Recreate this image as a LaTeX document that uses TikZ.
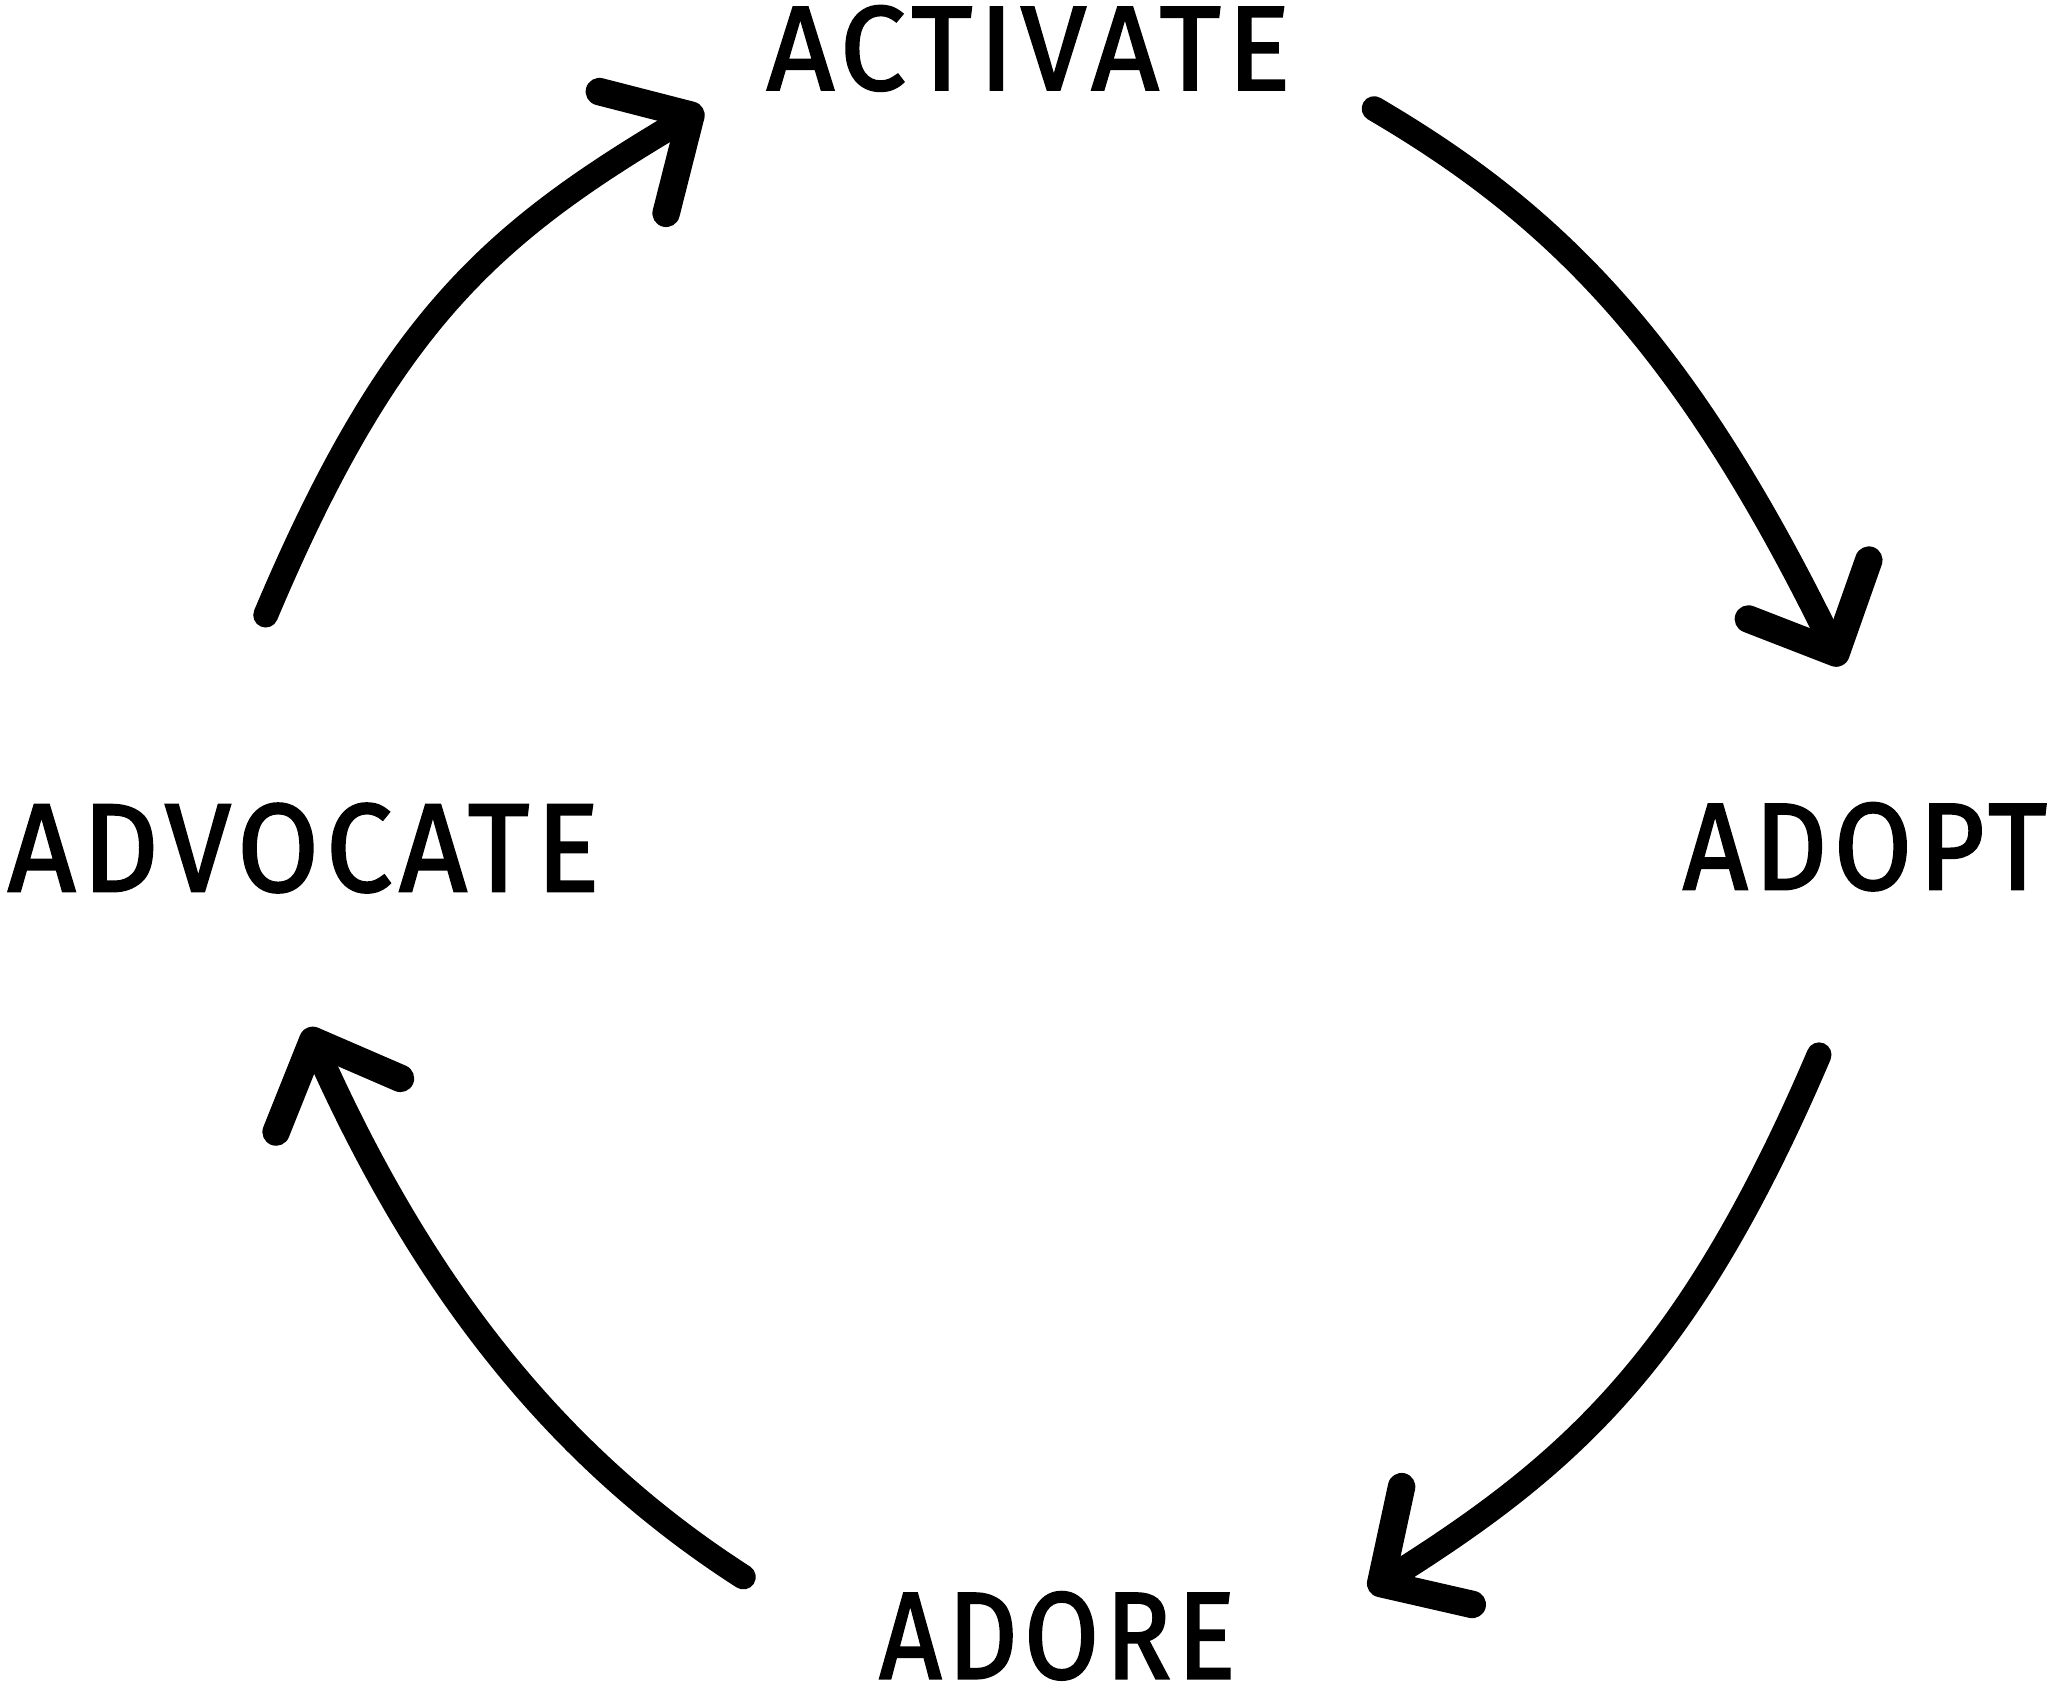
\documentclass[tikz,border=0pt]{standalone}
\usepackage{fontspec}
\usepackage{graphicx}
\newfontfamily\wordfont{Fira Sans}[LetterSpace=6, FakeBold=2]
\begin{document}
\begin{tikzpicture}[x=1pt,y=-1pt,
  word/.style={inner sep=0pt, font=\fontsize{90}{90}\wordfont},
  shaft/.style={line width=19pt, line cap=round},
  head/.style={line width=21pt, line cap=round, line join=round}]
\useasboundingbox (0,0) rectangle (1568,1294);

% the four stages
\node[word] (activate) at (786,37)   {\resizebox{400pt}{64pt}{ACTIVATE}};
\node[word] (adopt)    at (1425,647) {\resizebox{278pt}{66pt}{ADOPT}};
\node[word] (adore)    at (808,1250) {\resizebox{272pt}{66pt}{ADORE}};
\node[word] (advocate) at (232,648)  {\resizebox{452pt}{67pt}{ADVOCATE}};

% arrow ends and head wings
\coordinate (s1) at (203,470);  \coordinate (t1) at (528,88);
\coordinate (a1) at (458,70);   \coordinate (b1) at (509,163);
\coordinate (s2) at (1050,83);  \coordinate (t2) at (1403,499);
\coordinate (a2) at (1428,428); \coordinate (b2) at (1336,473);
\coordinate (s3) at (1390,806); \coordinate (t3) at (1055,1210);
\coordinate (a3) at (1071,1136);\coordinate (b3) at (1125,1226);
\coordinate (s4) at (568,1205); \coordinate (t4) at (239,795);
\coordinate (a4) at (306,824);  \coordinate (b4) at (211,865);

% curved shafts
\draw[shaft] (s1) .. controls (300,240) and (380,175) .. (t1);
\draw[shaft] (s2) .. controls (1190,165) and (1290,265) .. (t2);
\draw[shaft] (s3) .. controls (1290,1040) and (1200,1120) .. (t3);
\draw[shaft] (s4) .. controls (420,1110) and (318,975) .. (t4);

% open arrowheads
\draw[head] (a1) -- (t1) -- (b1);
\draw[head] (a2) -- (t2) -- (b2);
\draw[head] (a3) -- (t3) -- (b3);
\draw[head] (a4) -- (t4) -- (b4);
\end{tikzpicture}
\end{document}
